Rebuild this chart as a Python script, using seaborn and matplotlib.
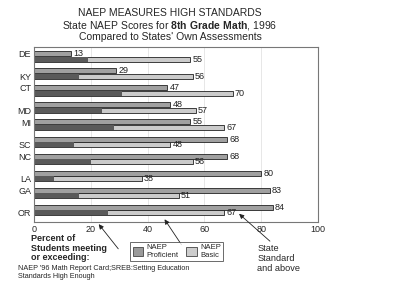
import numpy as np
import pandas as pd
import matplotlib
matplotlib.use("Agg")
import matplotlib.pyplot as plt
import seaborn as sns
from matplotlib.patches import Patch

states = ["DE", "KY", "CT", "MD", "MI", "SC", "NC", "LA", "GA", "OR"]
state_standard = [13, 29, 47, 48, 55, 68, 68, 80, 83, 84]
naep_basic = [55, 56, 70, 57, 67, 48, 56, 38, 51, 67]
naep_proficient = [19, 16, 31, 24, 28, 14, 20, 7, 16, 26]
xticks = [0, 20, 40, 60, 80, 100]

sns.set_theme(style="white")
plt.rcParams["font.family"] = ["Liberation Sans", "DejaVu Sans"]
plt.rcParams["mathtext.fontset"] = "custom"
plt.rcParams["mathtext.rm"] = "Liberation Sans"
plt.rcParams["mathtext.bf"] = "Liberation Sans:bold"

df = pd.DataFrame({
    "state": states * 2,
    "series": ["State"] * len(states) + ["Basic"] * len(states),
    "value": state_standard + naep_basic,
})
df_prof = pd.DataFrame({
    "state": states * 2,
    "series": ["State"] * len(states) + ["Basic"] * len(states),
    "value": [0] * len(states) + naep_proficient,
})

fig = plt.figure(figsize=(4.0, 3.05), dpi=100)
ax = fig.add_axes([0.085, 0.272, 0.71, 0.574])

order = ["State", "Basic"]
sns.barplot(data=df, y="state", x="value", hue="series", hue_order=order,
            order=states, orient="h", width=0.66, gap=0.12,
            palette={"State": "#a0a0a0", "Basic": "#cbcbcb"},
            edgecolor="#222222", linewidth=0.6, legend=False, ax=ax)
for cont in ax.containers:
    ax.bar_label(cont, fmt="%d", padding=1.5, fontsize=6.5, color="#222222")
sns.barplot(data=df_prof, y="state", x="value", hue="series", hue_order=order,
            order=states, orient="h", width=0.66, gap=0.12,
            palette={"State": "#a0a0a0", "Basic": "#5a5a5a"},
            linewidth=0, legend=False, ax=ax)

ax.set_xlim(0, 100)
ax.set_ylim(9.7, -0.56)
ax.set_xticks(xticks)
ax.set_xticklabels([str(t) for t in xticks], fontsize=6.5)
offs = [-0.16 if i % 2 == 0 else 0.16 for i in range(len(states))]
ax.set_yticks([i + o for i, o in enumerate(offs)])
ax.set_yticklabels(states, fontsize=6.5)
ax.tick_params(axis="both", length=0, pad=2)
ax.set_xlabel("")
ax.set_ylabel("")
ax.xaxis.grid(True, color="#dddddd", linewidth=0.5)
ax.set_axisbelow(True)
for s in ax.spines.values():
    s.set_color("#777777")
    s.set_linewidth(0.8)

fig.text(0.425, 0.957, "NAEP MEASURES HIGH STANDARDS", ha="center", va="center", fontsize=7.5)
fig.text(0.425, 0.918, "State NAEP Scores for $\\mathbf{8th\\ Grade\\ Math}$, 1996", ha="center", va="center", fontsize=7.5)
fig.text(0.425, 0.880, "Compared to States' Own Assessments", ha="center", va="center", fontsize=7.5)

fig.text(0.078, 0.186, "Percent of\nStudents meeting\nor exceeding:", ha="left", va="center",
         fontsize=6.5, fontweight="bold", linespacing=1.1)
fig.text(0.045, 0.106, "NAEP '96 Math Report Card;SREB:Setting Education\nStandards High Enough",
         ha="left", va="center", fontsize=5.2, linespacing=1.3)
fig.text(0.643, 0.151, "State\nStandard\nand above", ha="left", va="center", fontsize=6.6,
         linespacing=1.15)

handles = [Patch(facecolor="#9a9a9a", edgecolor="#444444", linewidth=0.6),
           Patch(facecolor="#cdcdcd", edgecolor="#444444", linewidth=0.6)]
leg = fig.legend(handles, ["NAEP\nProficient", "NAEP\nBasic"], ncol=2,
                 loc="center", bbox_to_anchor=(0.442, 0.175), fontsize=5.5,
                 frameon=True, fancybox=False, edgecolor="#444444",
                 handlelength=1.4, handleheight=1.4, columnspacing=1.0,
                 handletextpad=0.4, borderpad=0.3)
leg.get_frame().set_linewidth(0.7)

arrow = dict(arrowstyle="-|>", color="#222222", lw=0.6, mutation_scale=7)
ax.annotate("", xy=(97, 305 - 222), xycoords="figure pixels",
            xytext=(120, 305 - 251), textcoords="figure pixels", arrowprops=arrow)
ax.annotate("", xy=(163, 305 - 217), xycoords="figure pixels",
            xytext=(183, 305 - 247), textcoords="figure pixels", arrowprops=arrow)
ax.annotate("", xy=(237, 305 - 212), xycoords="figure pixels",
            xytext=(272, 305 - 243), textcoords="figure pixels", arrowprops=arrow)

fig.savefig("out.png", dpi=100)
